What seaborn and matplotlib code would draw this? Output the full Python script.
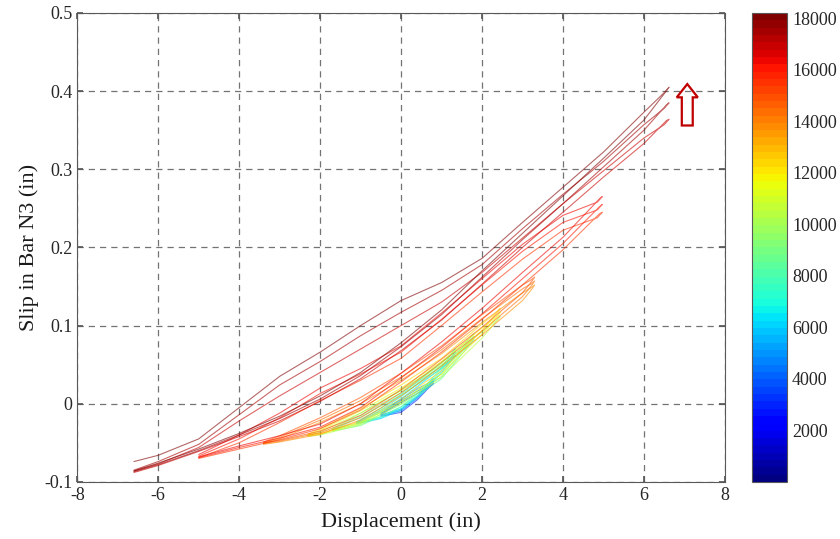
import matplotlib
matplotlib.use("Agg")
import matplotlib.pyplot as plt
import pandas as pd
import seaborn as sns
from matplotlib.patches import FancyArrow
from matplotlib.ticker import FuncFormatter

# loop vertices: loading branch, peak hook, unloading branch
dark_x = [-6.6, -6, -5, -4, -3, -2, -1, 0, 1, 2, 3, 4, 5, 6, 6.55, 6.62, 6.5,
          6, 5, 4, 3, 2, 1, 0, -1, -2, -3, -4, -5, -6, -6.6]
dark_y1 = [-0.088, -0.079, -0.061, -0.042, -0.022, 0.003, 0.032, 0.068, 0.107, 0.153, 0.2, 0.245, 0.29, 0.333, 0.362,
           0.364, 0.357,
           0.34, 0.298, 0.256, 0.212, 0.168, 0.13, 0.1, 0.07, 0.04, 0.01, -0.022, -0.056, -0.077, -0.086]
dark_y2 = [-0.087, -0.078, -0.06, -0.04, -0.019, 0.006, 0.036, 0.073, 0.114, 0.162, 0.21, 0.256, 0.303, 0.35, 0.382,
           0.385, 0.378,
           0.357, 0.31, 0.268, 0.224, 0.178, 0.145, 0.117, 0.087, 0.054, 0.024, -0.014, -0.052, -0.074, -0.085]
dark_y3 = [-0.086, -0.076, -0.058, -0.038, -0.016, 0.01, 0.04, 0.078, 0.12, 0.17, 0.218, 0.266, 0.314, 0.363, 0.4,
           0.405, 0.398,
           0.373, 0.322, 0.277, 0.232, 0.186, 0.155, 0.132, 0.1, 0.066, 0.035, -0.005, -0.045, -0.066, -0.074]

red_x = [-5, -4, -3, -2, -1, 0, 1, 2, 3, 4, 4.9, 4.97, 4.85, 4, 3, 2, 1, 0, -1, -2, -3, -4, -5]
red_y1 = [-0.07, -0.058, -0.046, -0.032, -0.008, 0.028, 0.066, 0.108, 0.152, 0.197, 0.243, 0.245, 0.238,
          0.222, 0.185, 0.143, 0.1, 0.058, 0.03, 0.004, -0.024, -0.05, -0.069]
red_y2 = [-0.069, -0.056, -0.044, -0.03, -0.005, 0.033, 0.072, 0.115, 0.16, 0.205, 0.252, 0.255, 0.248,
          0.232, 0.195, 0.152, 0.108, 0.066, 0.038, 0.013, -0.018, -0.045, -0.067]
red_y3 = [-0.068, -0.054, -0.041, -0.026, 0.0, 0.039, 0.079, 0.122, 0.168, 0.213, 0.262, 0.265, 0.258,
          0.241, 0.204, 0.16, 0.116, 0.074, 0.045, 0.02, -0.012, -0.04, -0.065]

orange_x = [-3.4, -3, -2, -1, 0, 1, 2, 3, 3.25, 3.3, 3.2, 3, 2, 1, 0, -1, -2, -3, -3.4]
orange_y1 = [-0.052, -0.049, -0.039, -0.021, 0.01, 0.048, 0.088, 0.132, 0.148, 0.152, 0.148,
             0.142, 0.104, 0.064, 0.03, 0.0, -0.024, -0.045, -0.051]
orange_y2 = [-0.051, -0.048, -0.037, -0.018, 0.014, 0.053, 0.093, 0.137, 0.153, 0.157, 0.153,
             0.147, 0.109, 0.069, 0.034, 0.004, -0.021, -0.043, -0.05]
orange_y3 = [-0.05, -0.047, -0.035, -0.015, 0.018, 0.057, 0.098, 0.142, 0.158, 0.162, 0.158,
             0.152, 0.114, 0.074, 0.039, 0.008, -0.018, -0.041, -0.049]

yellow_x = [-2.3, -2, -1, 0, 1, 2, 2.4, 2.45, 2.35, 2, 1, 0, -1, -2, -2.3]
yellow_y1 = [-0.042, -0.04, -0.027, 0.0, 0.034, 0.084, 0.108, 0.112, 0.106, 0.092, 0.05, 0.017, -0.012, -0.036, -0.041]
yellow_y2 = [-0.041, -0.039, -0.025, 0.003, 0.038, 0.089, 0.113, 0.117, 0.111, 0.097, 0.054, 0.02, -0.009, -0.034, -0.04]
yellow_y3 = [-0.04, -0.038, -0.023, 0.006, 0.042, 0.094, 0.118, 0.122, 0.116, 0.102, 0.058, 0.024, -0.006, -0.032, -0.039]

green_x = [-1.7, -1, 0, 1, 1.75, 1.8, 1.7, 1, 0, -1, -1.7]
green_y1 = [-0.035, -0.028, -0.004, 0.032, 0.079, 0.082, 0.076, 0.045, 0.011, -0.017, -0.034]
green_y2 = [-0.034, -0.026, -0.001, 0.035, 0.083, 0.086, 0.08, 0.048, 0.014, -0.015, -0.033]
green_y3 = [-0.033, -0.024, 0.002, 0.038, 0.087, 0.09, 0.084, 0.052, 0.017, -0.012, -0.032]

cyan_x = [-1.1, -0.5, 0, 0.5, 1, 1.3, 1.35, 1.25, 1, 0.5, 0, -0.5, -1.1]
cyan_y1 = [-0.026, -0.019, -0.008, 0.012, 0.04, 0.06, 0.062, 0.056, 0.046, 0.026, 0.006, -0.01, -0.025]
cyan_y2 = [-0.025, -0.018, -0.006, 0.014, 0.043, 0.064, 0.066, 0.06, 0.049, 0.029, 0.009, -0.008, -0.024]
cyan_y3 = [-0.024, -0.017, -0.004, 0.017, 0.046, 0.068, 0.07, 0.064, 0.053, 0.032, 0.012, -0.006, -0.023]

blue_x = [-0.5, 0, 0.4, 0.75, 0.8, 0.7, 0.4, 0, -0.5]
blue_y1 = [-0.016, -0.011, 0.005, 0.024, 0.026, 0.021, 0.013, 0.002, -0.014]
blue_y2 = [-0.015, -0.009, 0.007, 0.027, 0.029, 0.024, 0.016, 0.004, -0.013]
blue_y3 = [-0.014, -0.007, 0.009, 0.03, 0.032, 0.027, 0.019, 0.006, -0.012]

# time step of each loop (colour scale)
loops = [
    (blue_x, blue_y1, 3000), (blue_x, blue_y2, 4000), (blue_x, blue_y3, 5000),
    (cyan_x, cyan_y1, 6000), (cyan_x, cyan_y2, 6800), (cyan_x, cyan_y3, 7500),
    (green_x, green_y1, 8500), (green_x, green_y2, 9000), (green_x, green_y3, 9500),
    (yellow_x, yellow_y1, 10500), (yellow_x, yellow_y2, 11500), (yellow_x, yellow_y3, 12500),
    (orange_x, orange_y1, 13800), (orange_x, orange_y2, 14300), (orange_x, orange_y3, 14800),
    (red_x, red_y1, 15600), (red_x, red_y2, 16000), (red_x, red_y3, 16400),
    (dark_x, dark_y1, 17000), (dark_x, dark_y2, 17500), (dark_x, dark_y3, 18100),
]
step_max = 18200
cbar_ticks = [2000, 4000, 6000, 8000, 10000, 12000, 14000, 16000, 18000]

rows = []
for i, (xs, ys, step) in enumerate(loops):
    for x, y in zip(xs, ys, strict=True):
        rows.append((i, step, x, y))
df = pd.DataFrame(rows, columns=["loop", "step", "x", "y"])

sns.set_theme(style="whitegrid")
plt.rcParams["font.family"] = ["Liberation Serif", "DejaVu Serif"]
plt.rcParams["axes.unicode_minus"] = False

fig = plt.figure(figsize=(8.4, 5.39), dpi=100)
ax = fig.add_axes([0.092, 0.106, 0.771, 0.870])
cax = fig.add_axes([0.895, 0.106, 0.042, 0.870])

jet = plt.get_cmap("jet", 64)
sns.lineplot(data=df, x="x", y="y", hue="step", units="loop", estimator=None, sort=False,
             palette=jet, hue_norm=(0, step_max), legend=False, linewidth=0.8, alpha=0.6, ax=ax)

ax.set_xlim(-8, 8)
ax.set_ylim(-0.1, 0.5)
ax.set_xticks(range(-8, 9, 2))
ax.set_yticks([-0.1, 0, 0.1, 0.2, 0.3, 0.4, 0.5])
ax.yaxis.set_major_formatter(FuncFormatter(lambda v, p: f"{v:g}"))
ax.grid(True, linestyle=(0, (5, 4)), color="0.45", linewidth=0.9)
for s in ax.spines.values():
    s.set_color("0.35")
    s.set_linewidth(0.8)
ax.tick_params(direction="in", length=4, bottom=True, left=True, top=True, right=True,
               labelsize=13, color="0.35", labelcolor="0.15")
ax.set_xlabel("Displacement (in)", fontsize=16, color="0.1", labelpad=6)
ax.set_ylabel("Slip in Bar N3 (in)", fontsize=16, color="0.1")

ax.add_patch(FancyArrow(7.07, 0.356, 0, 0.053, width=0.27, head_width=0.52, head_length=0.017,
                        length_includes_head=True, fill=False, edgecolor="#c00000", linewidth=1.6))

sm = plt.cm.ScalarMappable(cmap=jet, norm=plt.Normalize(0, step_max))
cb = fig.colorbar(sm, cax=cax, ticks=cbar_ticks)
cb.outline.set_edgecolor("0.35")
cb.outline.set_linewidth(0.8)
cb.ax.tick_params(direction="in", length=4, left=True, right=True, labelsize=13,
                  color="0.3", labelcolor="0.15")

fig.savefig("out.png", dpi=100)
